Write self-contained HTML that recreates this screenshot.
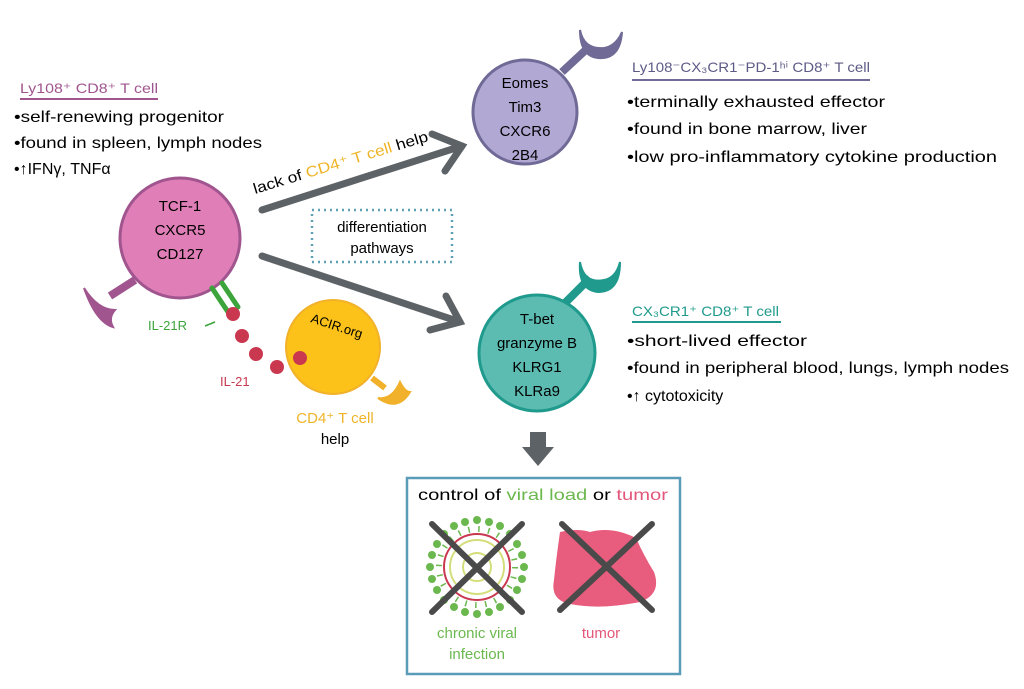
<!DOCTYPE html>
<html><head><meta charset="utf-8"><style>
html,body{margin:0;padding:0;background:#fff;}
svg{display:block;}
text{font-family:"Liberation Sans",sans-serif;}
</style></head><body>
<svg width="1024" height="689" viewBox="0 0 1024 689" xmlns="http://www.w3.org/2000/svg">
<g stroke="#5d6266" stroke-width="7" stroke-linecap="round" fill="none">
<line x1="262" y1="210" x2="462" y2="146"/>
<polyline points="432,134 462,146 445,171"/>
<line x1="262" y1="256" x2="460" y2="322"/>
<polyline points="446,296 460,322 430,330"/>
</g>
<rect x="312" y="210" width="140" height="52" fill="none" stroke="#5fa0b5" stroke-width="2.5" stroke-dasharray="2,4"/>
<text x="382" y="232" font-size="15" text-anchor="middle">differentiation</text>
<text x="382" y="253" font-size="15" text-anchor="middle">pathways</text>
<text transform="translate(255,194) rotate(-17)" font-size="15" textLength="182" lengthAdjust="spacingAndGlyphs">lack of <tspan fill="#f0b429">CD4⁺ T cell</tspan> help</text>

<g stroke="#a0558f" fill="#a0558f">
<line x1="135" y1="280" x2="110" y2="296" stroke-width="8"/>
<path d="M84,288 Q98,310 115,310 Q108,318 113,327 Q96,322 84,288 Z" stroke-width="2"/>
</g>
<circle cx="180" cy="238" r="60" fill="#e07fb7" stroke="#a0558f" stroke-width="3"/>
<text x="180" y="211" font-size="15" text-anchor="middle">TCF-1</text>
<text x="180" y="235" font-size="15" text-anchor="middle">CXCR5</text>
<text x="180" y="259" font-size="15" text-anchor="middle">CD127</text>
<g stroke="#3ba53b" stroke-width="5" stroke-linecap="round">
<line x1="212" y1="288" x2="228" y2="312"/>
<line x1="222" y1="283" x2="238" y2="307"/>
</g>
<line x1="215" y1="322" x2="205" y2="326" stroke="#3ba53b" stroke-width="1.5"/>
<text x="148" y="330" font-size="13" fill="#3ba53b">IL-21R</text>
<g fill="#c9384f">
<circle cx="233" cy="314" r="7"/>
<circle cx="242" cy="336" r="7"/>
<circle cx="256" cy="354" r="7"/>
<circle cx="277" cy="367" r="7"/>
</g>
<text x="220" y="386" font-size="13" fill="#c9384f">IL-21</text>
<g stroke="#f2b12a" fill="#f2b12a">
<line x1="372" y1="378" x2="385" y2="388" stroke-width="6"/>
<path d="M378,398 Q392,400 400,382 Q405,392 410,392 Q398,412 378,398 Z" stroke-width="2"/>
</g>
<circle cx="333" cy="347" r="47" fill="#fcc21a" stroke="#f2b12a" stroke-width="2"/>
<circle cx="300" cy="358" r="7" fill="#c9384f"/>
<text transform="translate(310,322) rotate(18)" font-size="13">ACIR.org</text>
<text x="335" y="423" font-size="15" text-anchor="middle" fill="#f0b429">CD4⁺ T cell</text>
<text x="335" y="444" font-size="15" text-anchor="middle">help</text>

<g stroke="#6f6a96" fill="#6f6a96">
<line x1="562" y1="72" x2="590" y2="46" stroke-width="8"/>
<path d="M580,30 Q584,50 604,48 Q616,46 622,32 Q620,60 598,58 Q580,56 580,30 Z" stroke-width="2"/>
</g>
<circle cx="525" cy="112" r="52" fill="#b2a8d4" stroke="#6f6a96" stroke-width="3"/>
<text x="525" y="88" font-size="15" text-anchor="middle">Eomes</text>
<text x="525" y="112" font-size="15" text-anchor="middle">Tim3</text>
<text x="525" y="136" font-size="15" text-anchor="middle">CXCR6</text>
<text x="525" y="160" font-size="15" text-anchor="middle">2B4</text>

<g stroke="#1f9a8c" fill="#1f9a8c">
<line x1="565" y1="303" x2="590" y2="278" stroke-width="8"/>
<path d="M580,262 Q584,284 604,280 Q616,278 620,262 Q620,292 598,292 Q578,290 580,262 Z" stroke-width="2"/>
</g>
<circle cx="537" cy="353" r="58" fill="#5cbcb2" stroke="#1f9a8c" stroke-width="3"/>
<text x="537" y="324" font-size="15" text-anchor="middle">T-bet</text>
<text x="537" y="348" font-size="15" text-anchor="middle">granzyme B</text>
<text x="537" y="372" font-size="15" text-anchor="middle">KLRG1</text>
<text x="537" y="396" font-size="15" text-anchor="middle">KLRa9</text>

<rect x="530" y="432" width="16" height="16" fill="#5d6266"/>
<polygon points="522,447 554,447 538,466" fill="#5d6266"/>

<text x="20" y="93" font-size="14" fill="#a0558f" textLength="138" lengthAdjust="spacingAndGlyphs">Ly108⁺ CD8⁺ T cell</text>
<line x1="20" y1="99" x2="158" y2="99" stroke="#a0558f" stroke-width="2"/>
<text x="14" y="122" font-size="16" textLength="210" lengthAdjust="spacingAndGlyphs">•self-renewing progenitor</text>
<text x="14" y="148" font-size="16" textLength="248" lengthAdjust="spacingAndGlyphs">•found in spleen, lymph nodes</text>
<text x="14" y="174" font-size="16">•↑IFNγ, TNFα</text>

<text x="632" y="72" font-size="14" fill="#5e5a86" textLength="238" lengthAdjust="spacingAndGlyphs">Ly108⁻CX₃CR1⁻PD-1ʰⁱ CD8⁺ T cell</text>
<line x1="632" y1="80" x2="870" y2="80" stroke="#6f6a96" stroke-width="2"/>
<text x="627" y="107" font-size="16" textLength="258" lengthAdjust="spacingAndGlyphs">•terminally exhausted effector</text>
<text x="627" y="134" font-size="16" textLength="240" lengthAdjust="spacingAndGlyphs">•found in bone marrow, liver</text>
<text x="627" y="162" font-size="16" textLength="370" lengthAdjust="spacingAndGlyphs">•low pro-inflammatory cytokine production</text>

<text x="632" y="316" font-size="14" fill="#1f9a8c" textLength="147" lengthAdjust="spacingAndGlyphs">CX₃CR1⁺ CD8⁺ T cell</text>
<line x1="632" y1="322" x2="781" y2="322" stroke="#1f9a8c" stroke-width="2"/>
<text x="627" y="346" font-size="16" textLength="180" lengthAdjust="spacingAndGlyphs">•short-lived effector</text>
<text x="627" y="373" font-size="16" textLength="382" lengthAdjust="spacingAndGlyphs">•found in peripheral blood, lungs, lymph nodes</text>
<text x="627" y="401" font-size="16">•↑ cytotoxicity</text>

<rect x="407" y="478" width="273" height="196" fill="#fff" stroke="#5a9bb8" stroke-width="2.5"/>
<text x="418" y="500" font-size="16" textLength="250" lengthAdjust="spacingAndGlyphs">control of <tspan fill="#6bb84f">viral load</tspan> or <tspan fill="#e3577a">tumor</tspan></text>
<g>
<g fill="#6bb84f">
<circle cx="477" cy="520" r="4"/><circle cx="500" cy="526" r="4"/><circle cx="517" cy="544" r="4"/><circle cx="524" cy="567" r="4"/><circle cx="517" cy="590" r="4"/><circle cx="500" cy="607" r="4"/><circle cx="477" cy="614" r="4"/><circle cx="454" cy="607" r="4"/><circle cx="437" cy="590" r="4"/><circle cx="430" cy="567" r="4"/><circle cx="437" cy="544" r="4"/><circle cx="454" cy="526" r="4"/>
<circle cx="489" cy="522" r="4"/><circle cx="510" cy="534" r="4"/><circle cx="522" cy="555" r="4"/><circle cx="522" cy="579" r="4"/><circle cx="510" cy="600" r="4"/><circle cx="489" cy="612" r="4"/><circle cx="465" cy="612" r="4"/><circle cx="444" cy="600" r="4"/><circle cx="432" cy="579" r="4"/><circle cx="432" cy="555" r="4"/><circle cx="444" cy="534" r="4"/><circle cx="465" cy="522" r="4"/>
</g>
<circle cx="477" cy="567" r="38" fill="none" stroke="#6bb84f" stroke-width="6" stroke-dasharray="1.5,8.5"/>
<circle cx="477" cy="567" r="33" fill="none" stroke="#c9384f" stroke-width="2"/>
<circle cx="477" cy="567" r="27" fill="none" stroke="#d4de7a" stroke-width="2"/>
<circle cx="477" cy="567" r="14" fill="none" stroke="#d4de7a" stroke-width="2"/>
</g>
<line x1="432" y1="524" x2="522" y2="612" stroke="#4a4a4a" stroke-width="6" stroke-linecap="round"/>
<line x1="522" y1="524" x2="432" y2="612" stroke="#4a4a4a" stroke-width="6" stroke-linecap="round"/>
<path d="M560,532 Q578,528 590,532 Q612,526 636,538 Q644,556 654,572 Q662,594 640,602 Q600,610 570,604 Q550,600 554,580 Q556,560 560,532 Z" fill="#e85c7e"/>
<line x1="562" y1="524" x2="652" y2="610" stroke="#4a4a4a" stroke-width="6" stroke-linecap="round"/>
<line x1="652" y1="524" x2="560" y2="610" stroke="#4a4a4a" stroke-width="6" stroke-linecap="round"/>
<text x="477" y="638" font-size="15" text-anchor="middle" fill="#6bb84f">chronic viral</text>
<text x="477" y="659" font-size="15" text-anchor="middle" fill="#6bb84f">infection</text>
<text x="601" y="638" font-size="15" text-anchor="middle" fill="#e3577a">tumor</text>
</svg>
</body></html>
